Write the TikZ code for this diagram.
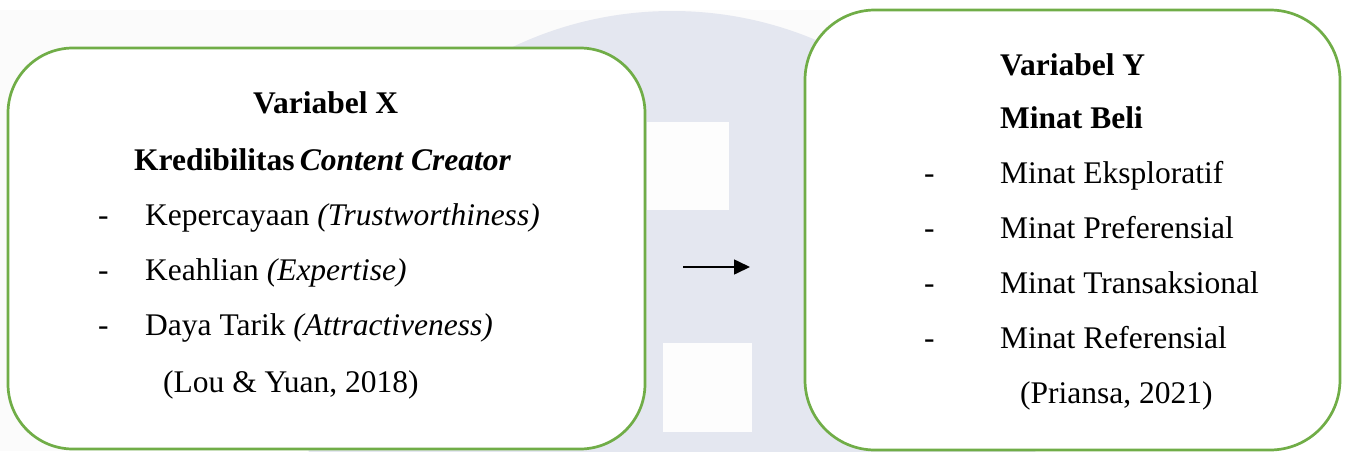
\documentclass[tikz,border=0pt]{standalone}
\usepackage{fontspec}
\setmainfont{Liberation Serif}
\usetikzlibrary{arrows.meta}
\definecolor{boxgreen}{HTML}{70AD47}
\definecolor{wmgray}{HTML}{E4E7F0}
\definecolor{wmband}{HTML}{FBFBFB}
\definecolor{wmwhite}{HTML}{FDFDFD}
\begin{document}
\begin{tikzpicture}[x=1pt,y=-1pt,
  vbox/.style={draw=boxgreen,line width=2.7pt,fill=white,inner sep=0pt},
  txt/.style={anchor=base west,inner sep=0pt,font=\fontsize{31.5}{36}\selectfont},
  conn/.style={line width=1.6pt,-{Triangle[length=16pt,width=15pt]}}]
\useasboundingbox (0,0) rectangle (1345,451);
\begin{scope}
  \clip (0,0) rectangle (1345,451);
  \fill[wmband] (0,10) rectangle (830,451);
  \fill[wmgray] (672,381) circle (370);
  \fill[wmwhite] (647,122) rectangle (729,210);
  \fill[wmwhite] (663,343) rectangle (752,432);
\end{scope}
% boxes
\node[vbox,rounded corners=65pt,minimum width=637pt,minimum height=401pt] (X) at (326.5,248.5) {};
\node[vbox,rounded corners=70pt,minimum width=535pt,minimum height=440pt] (Y) at (1072.5,230) {};
% left texts
\node[txt] (x1) at (253,113) {\textbf{Variabel X}};
\node[txt] (x2) at (134,170) {\textbf{Kredibilitas}\,\textbf{\textit{Content Creator}}};
\node[txt] (d1) at (98,225) {-};
\node[txt] (x3) at (145,225) {Kepercayaan \textit{(Trustworthiness)}};
\node[txt] (d2) at (98,280) {-};
\node[txt] (x4) at (145,280) {Keahlian \textit{(Expertise)}};
\node[txt] (d3) at (98,335) {-};
\node[txt] (x5) at (145,335) {Daya Tarik \textit{(Attractiveness)}};
\node[txt] (x6) at (163,392) {(Lou \& Yuan, 2018)};
% right texts
\node[txt] (y1) at (1000,75) {\textbf{Variabel Y}};
\node[txt] (y2) at (1000,128) {\textbf{Minat Beli}};
\node[txt] (e1) at (924,183) {-};
\node[txt] (y3) at (1000,183) {Minat Eksploratif};
\node[txt] (e2) at (924,238) {-};
\node[txt] (y4) at (1000,238) {Minat Preferensial};
\node[txt] (e3) at (924,293) {-};
\node[txt] (y5) at (1000,293) {Minat Transaksional};
\node[txt] (e4) at (924,348) {-};
\node[txt] (y6) at (1000,348) {Minat Referensial};
\node[txt] (y7) at (1020,403) {(Priansa, 2021)};
% arrow
\coordinate (a1) at (683,267);
\coordinate (a2) at (750,267);
\draw[conn] (a1) -- (a2);
\end{tikzpicture}
\end{document}
